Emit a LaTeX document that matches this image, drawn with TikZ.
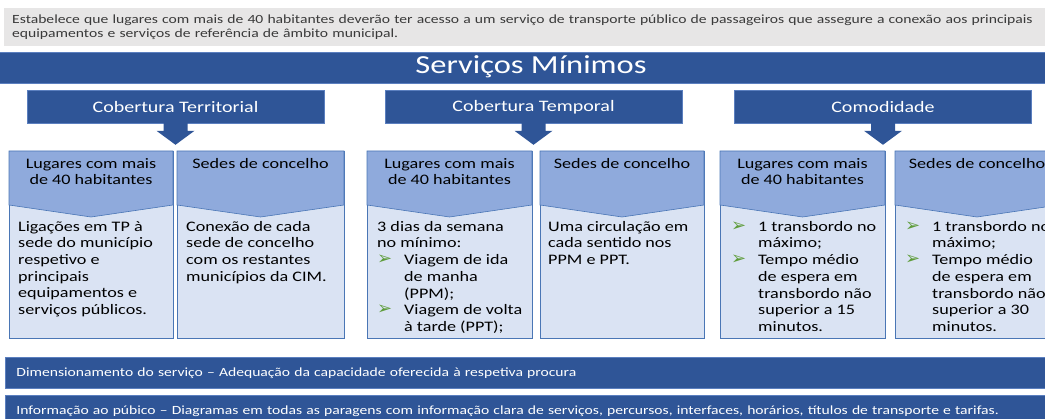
\documentclass[tikz,border=0pt]{standalone}
\usepackage{fontspec}
\setmainfont{Carlito}[FakeStretch=1.25]
\newfontfamily\symfont{DejaVu Sans}
\usetikzlibrary{positioning,calc}

\definecolor{barblue}{HTML}{2F5597}
\definecolor{barline}{HTML}{5B7FBF}
\definecolor{headblue}{HTML}{8FAADC}
\definecolor{bodyblue}{HTML}{DAE3F3}
\definecolor{panelline}{HTML}{4A76B5}
\definecolor{notegray}{HTML}{E7E6E6}
\definecolor{notetext}{HTML}{3A3A3A}
\definecolor{bulgreen}{HTML}{5E9C3A}

\newcommand{\bul}{\makebox[27pt][l]{\hspace{0pt}\textcolor{bulgreen}{\symfont\fontsize{18}{14}\selectfont ➢}}}
\newcommand{\ind}{\hspace*{27pt}}

% one panel: left x, right x, name of its top centre
\newcommand{\panel}[3]{%
  \draw[panelbody] (#1,151) rectangle (#2,338);
  \draw[panelhead] (#1,151) -- (#2,151) -- (#2,205) -- ({(#1+#2)/2},217) -- (#1,205) -- cycle;
  \coordinate (#3) at ({(#1+#2)/2},151);
}

% block arrow under a header node
\newcommand{\blockarrow}[1]{%
  \fill[barblue] ($(#1.south)+(-12,-1)$) -- ++(24,0) -- ++(0,8) -- ++(7,0)
    -- ++(-19,14) -- ++(-19,-14) -- ++(7,0) -- cycle;
}

\begin{document}
\begin{tikzpicture}[
    x=1pt, y=-1pt,
    note/.style={fill=notegray, text=notetext, inner xsep=8pt, inner ysep=0pt,
      text width=1034pt, minimum height=38pt, align=left,
      font=\fontsize{12.5}{14}\selectfont},
    infobar/.style={fill=barblue, draw=barline, line width=0.8pt, text=white,
      inner xsep=11pt, inner ysep=0pt, text width=1028pt, minimum height=31pt,
      align=left, font=\fontsize{12.5}{14}\selectfont},
    titlebar/.style={fill=barblue, draw=barline, line width=0.8pt, minimum width=1064pt,
      minimum height=31pt},
    titletext/.style={text=white, font=\fontsize{26}{30}\selectfont},
    subhead/.style={fill=barblue, draw=barline, line width=0.6pt, text=white,
      minimum width=297pt, minimum height=33pt, font=\fontsize{16}{19}\selectfont},
    panelbody/.style={fill=bodyblue, draw=panelline, line width=0.6pt},
    panelhead/.style={fill=headblue, draw=panelline, line width=0.6pt},
    headtext/.style={align=center, inner sep=0pt, font=\fontsize{14.5}{16.8}\selectfont},
    bodytext/.style={align=left, inner sep=0pt, anchor=north west,
      font=\fontsize{14.5}{16.7}\selectfont}
]
\useasboundingbox (0,0) rectangle (1045,419);
\clip (0,0) rectangle (1045,419);

\node[note, anchor=north west] (intro) at (4,8)
  {Estabelece que lugares com mais de 40 habitantes deverão ter acesso a um serviço de transporte público de passageiros que assegure a conexão aos principais\\
   equipamentos e serviços de referência de âmbito municipal.};

\node[titlebar] (title) at (531,67.5) {};
\node[titletext] (titlelabel) at (531,67) {Serviços Mínimos};

\node[subhead] (cter) at (175.5,107) {Cobertura Territorial};
\node[subhead] (ctemp) at (533.5,107) {Cobertura Temporal};
\node[subhead] (comod) at (883,107) {Comodidade};

\blockarrow{cter}
\blockarrow{ctemp}
\blockarrow{comod}

% panels
\panel{9}{173}{p1a}
\panel{177}{344}{p1b}
\panel{367}{532}{p2a}
\panel{540}{704}{p2b}
\panel{720}{885}{p3a}
\panel{895}{1059}{p3b}

\node[headtext, below=7pt of p1a] (h1a) {Lugares com mais\\de 40 habitantes};
\node[headtext, below=7pt of p1b] (h1b) {Sedes de concelho};
\node[headtext, below=7pt of p2a] (h2a) {Lugares com mais\\de 40 habitantes};
\node[headtext, below=7pt of p2b] (h2b) {Sedes de concelho};
\node[headtext, below=7pt of p3a] (h3a) {Lugares com mais\\de 40 habitantes};
\node[headtext, below=7pt of p3b] (h3b) {Sedes de concelho};

\node[bodytext] (b1a) at (18,221)
  {Ligações em TP à\\sede do município\\respetivo e\\principais\\equipamentos e\\serviços públicos.};
\node[bodytext] (b1b) at (186,221)
  {Conexão de cada\\sede de concelho\\com os restantes\\municípios da CIM.};
\node[bodytext] (b2a) at (377,221)
  {3 dias da semana\\no mínimo:\\\bul Viagem de ida\\\ind de manha\\\ind (PPM);\\\bul Viagem de volta\\\ind à tarde (PPT);};
\node[bodytext] (b2b) at (548,221)
  {Uma circulação em\\cada sentido nos\\PPM e PPT.};
\node[bodytext] (b3a) at (731,221)
  {\bul 1 transbordo no\\\ind máximo;\\\bul Tempo médio\\\ind de espera em\\\ind transbordo não\\\ind superior a 15\\\ind minutos.};
\node[bodytext] (b3b) at (905,221)
  {\bul 1 transbordo no\\\ind máximo;\\\bul Tempo médio\\\ind de espera em\\\ind transbordo não\\\ind superior a 30\\\ind minutos.};

\node[infobar, anchor=north west] (dim) at (5,357)
  {Dimensionamento do serviço – Adequação da capacidade oferecida à respetiva procura};
\node[infobar, anchor=north west] (info) at (5,395)
  {Informação ao púbico – Diagramas em todas as paragens com informação clara de serviços, percursos, interfaces, horários, títulos de transporte e tarifas.};
\end{tikzpicture}
\end{document}
